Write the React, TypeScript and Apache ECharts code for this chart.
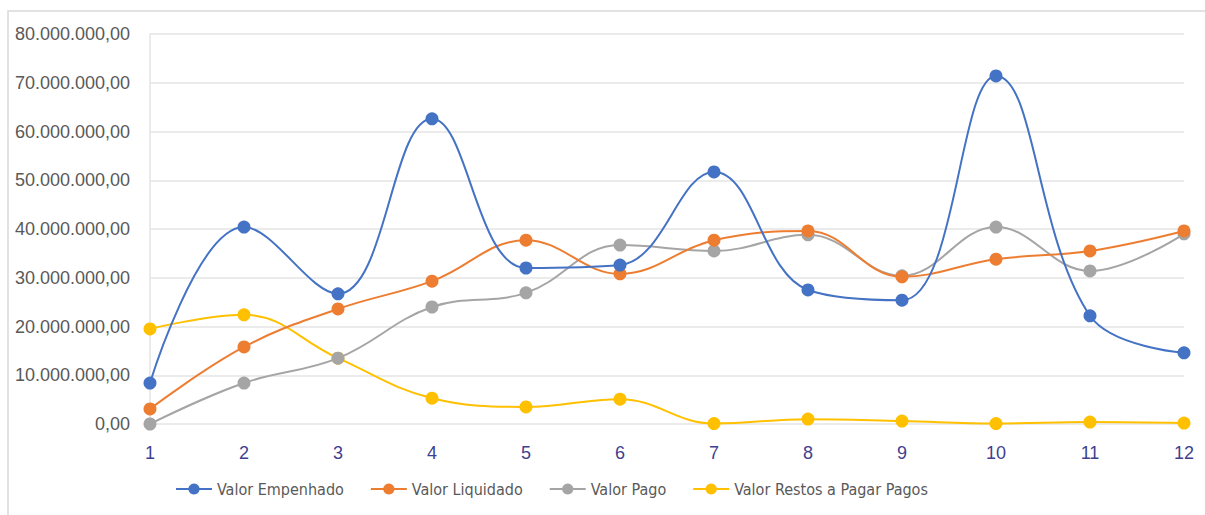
import React, { useEffect, useRef } from "react";
import * as echarts from "echarts";

const categories = ["1", "2", "3", "4", "5", "6", "7", "8", "9", "10", "11", "12"];
const empenhado = [8.4e6, 40.4e6, 26.7e6, 62.6e6, 32.0e6, 32.6e6, 51.7e6, 27.5e6, 25.4e6, 71.4e6, 22.2e6, 14.6e6];
const liquidado = [3.1e6, 15.8e6, 23.6e6, 29.3e6, 37.7e6, 30.8e6, 37.7e6, 39.6e6, 30.2e6, 33.8e6, 35.5e6, 39.6e6];
const pago = [0, 8.4e6, 13.5e6, 24.0e6, 26.9e6, 36.7e6, 35.5e6, 38.8e6, 30.4e6, 40.4e6, 31.4e6, 39.0e6];
const restos = [19.5e6, 22.4e6, 13.5e6, 5.3e6, 3.5e6, 5.1e6, 0.1e6, 1.0e6, 0.6e6, 0.1e6, 0.4e6, 0.2e6];
const seriesNames = ["Valor Empenhado", "Valor Liquidado", "Valor Pago", "Valor Restos a Pagar Pagos"];
const colors = ["#4472C4", "#ED7D31", "#A5A5A5", "#FFC000"];

const FONT = "'Liberation Sans Narrow', 'Arial Narrow', 'Liberation Sans', sans-serif";
const LEGEND_FONT = "'DejaVu Sans Condensed', 'Liberation Sans Narrow', 'Liberation Sans', sans-serif";

function fmt(v: number): string {
  const s = Math.round(v).toString().replace(/\B(?=(\d{3})+(?!\d))/g, ".");
  return s + ",00";
}

export default function App() {
  const ref = useRef<HTMLDivElement>(null);
  useEffect(() => {
    if (!ref.current) return;
    const chart = echarts.init(ref.current, null, { renderer: "svg" });
    const data = [empenhado, liquidado, pago, restos];
    chart.setOption({
      animation: false,
      color: colors,
      graphic: [
        {
          type: "rect",
          shape: { x: 8, y: 11, width: 1205, height: 510 },
          style: { fill: "none", stroke: "#D9D9D9", lineWidth: 1.5 },
          silent: true,
        },
      ],
      grid: { left: 150, right: 21, top: 34, bottom: 91 },
      legend: {
        left: 170,
        top: 476,
        itemWidth: 36,
        itemHeight: 14,
        itemGap: 26,
        textStyle: { fontFamily: LEGEND_FONT, fontSize: 16, color: "#595959" },
        data: seriesNames,
      },
      xAxis: {
        type: "category",
        data: categories,
        boundaryGap: false,
        axisLine: { show: false },
        axisTick: { show: false },
        axisLabel: { fontFamily: FONT, fontSize: 18, color: "#3F3F8F", margin: 20 },
        splitLine: { show: false },
      },
      yAxis: {
        type: "value",
        min: 0,
        max: 80000000,
        interval: 10000000,
        axisLine: { show: true, lineStyle: { color: "#E4E4E4", width: 1.5 } },
        axisTick: { show: false },
        axisLabel: { fontFamily: FONT, fontSize: 18, color: "#595959", margin: 20, formatter: (v: number) => fmt(v) },
        splitLine: { lineStyle: { color: "#E4E4E4", width: 1.5 } },
      },
      series: data.map((d, i) => ({
        name: seriesNames[i],
        type: "line",
        data: d,
        smooth: 0.4,
        symbol: "circle",
        symbolSize: 13,
        lineStyle: { width: 2, color: colors[i] },
        itemStyle: { color: colors[i] },
        z: 10 - i,
      })),
    });
    return () => chart.dispose();
  }, []);
  return <div ref={ref} style={{ width: 1205, height: 515, position: "absolute", left: 0, top: 0 }} />;
}
